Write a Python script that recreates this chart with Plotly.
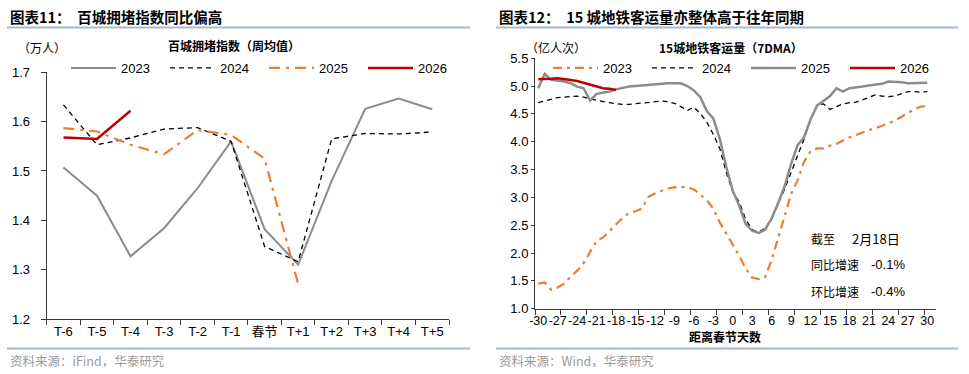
import plotly.graph_objects as go

W, H = 969, 374


def px(x):
    return x / W


def py(y):
    return 1 - y / H


# ---------------- Left chart data ----------------
left_cats = ["T-6", "T-5", "T-4", "T-3", "T-2", "T-1", "春节", "T+1", "T+2", "T+3", "T+4", "T+5"]
cong_2023 = [1.507, 1.450, 1.327, 1.384, 1.465, 1.560, 1.382, 1.310, 1.480, 1.626, 1.647, 1.625]
cong_2024 = [1.634, 1.553, 1.567, 1.585, 1.588, 1.560, 1.347, 1.316, 1.565, 1.576, 1.575, 1.579]
cong_2025 = [1.587, 1.580, 1.553, 1.534, 1.583, 1.573, 1.525, 1.271]
cong_2026 = [1.568, 1.565, 1.622]

# ---------------- Right chart data ----------------
days = list(range(-30, 31))
right_tickvals = list(range(-30, 31, 3))
right_ticktext = [str(v) for v in right_tickvals]
metro_2023 = [1.45, 1.47, 1.34, 1.38, 1.45, 1.58, 1.68, 1.82, 2.02, 2.22,
              2.28, 2.40, 2.52, 2.63, 2.72, 2.75, 2.80, 3.01, 3.07, 3.12,
              3.16, 3.18, 3.19, 3.18, 3.14, 3.05, 2.95, 2.80, 2.55, 2.35,
              2.16, 1.95, 1.72, 1.56, 1.53, 1.57, 1.88, 2.25, 2.66, 3.06,
              3.31, 3.64, 3.83, 3.88, 3.88, 3.93, 3.96, 4.02, 4.08, 4.12,
              4.17, 4.21, 4.24, 4.28, 4.33, 4.38, 4.45, 4.52, 4.58, 4.63,
              4.64]
metro_2024 = [4.70, 4.73, 4.76, 4.79, 4.80, 4.81, 4.82, 4.80, 4.77, 4.74,
              4.72, 4.70, 4.68, 4.67, 4.67, 4.68, 4.69, 4.70, 4.72, 4.73,
              4.72, 4.69, 4.63, 4.56, 4.62, 4.51, 4.35, 4.13, 3.88, 3.45,
              3.10, 2.92, 2.60, 2.42, 2.37, 2.45, 2.62, 2.88, 3.15, 3.45,
              3.75, 4.05, 4.40, 4.65, 4.68, 4.58, 4.63, 4.68, 4.70, 4.71,
              4.75, 4.80, 4.84, 4.82, 4.81, 4.82, 4.86, 4.90, 4.90, 4.89,
              4.90]
metro_2025 = [4.96, 5.22, 5.11, 5.10, 5.08, 5.05, 4.99, 4.96, 4.74, 4.86,
              4.88, 4.90, 4.94, 4.97, 4.99, 5.00, 5.01, 5.03, 5.03, 5.04,
              5.05, 5.05, 5.05, 5.00, 4.92, 4.80, 4.55, 4.42, 4.05, 3.55,
              3.12, 2.85, 2.52, 2.40, 2.36, 2.42, 2.62, 2.90, 3.20, 3.60,
              3.94, 4.08, 4.40, 4.65, 4.74, 4.82, 4.96, 4.90, 4.96, 4.97,
              4.99, 5.01, 5.02, 5.04, 5.08, 5.08, 5.07, 5.05, 5.05, 5.05,
              5.06]
days_2026 = list(range(-30, -17))
metro_2026 = [5.12, 5.12, 5.13, 5.14, 5.13, 5.11, 5.09, 5.06, 5.03, 5.00,
              4.96, 4.95, 4.93]

GRAY = "#8c8c8c"
RED = "#c00000"
ORANGE = "#ed7d31"
BLACK = "#000000"
AXIS = "#3a3a3a"
RULE = "#a9b9cc"
FONT = "Liberation Sans, Noto Sans CJK SC, sans-serif"
CJK = "Noto Sans CJK SC, Liberation Sans, sans-serif"

fig = go.Figure()

# Left traces
fig.add_trace(go.Scatter(x=left_cats, y=cong_2023, name="2023", mode="lines",
                         line=dict(color=GRAY, width=2), legend="legend", xaxis="x", yaxis="y"))
fig.add_trace(go.Scatter(x=left_cats, y=cong_2024, name="2024", mode="lines",
                         line=dict(color=BLACK, width=1.3, dash="5px,4px"), legend="legend", xaxis="x", yaxis="y"))
fig.add_trace(go.Scatter(x=left_cats[:len(cong_2025)], y=cong_2025, name="2025", mode="lines",
                         line=dict(color=ORANGE, width=2.2, dash="11px,6px,3px,6px"), legend="legend", xaxis="x", yaxis="y"))
fig.add_trace(go.Scatter(x=left_cats[:len(cong_2026)], y=cong_2026, name="2026", mode="lines",
                         line=dict(color=RED, width=2.5), legend="legend", xaxis="x", yaxis="y"))

# Right traces
fig.add_trace(go.Scatter(x=days, y=metro_2023, name="2023", mode="lines",
                         line=dict(color=ORANGE, width=2.2, dash="9px,5px,3px,5px"), legend="legend2", xaxis="x2", yaxis="y2"))
fig.add_trace(go.Scatter(x=days, y=metro_2024, name="2024", mode="lines",
                         line=dict(color=BLACK, width=1.3, dash="5px,4px"), legend="legend2", xaxis="x2", yaxis="y2"))
fig.add_trace(go.Scatter(x=days, y=metro_2025, name="2025", mode="lines",
                         line=dict(color=GRAY, width=2.5), legend="legend2", xaxis="x2", yaxis="y2"))
fig.add_trace(go.Scatter(x=days_2026, y=metro_2026, name="2026", mode="lines",
                         line=dict(color=RED, width=2.5), legend="legend2", xaxis="x2", yaxis="y2"))

axis_common = dict(showline=True, linecolor=AXIS, linewidth=1, showgrid=False, zeroline=False,
                   ticks="outside", tickcolor=AXIS, ticklen=5, tickfont=dict(family=FONT, size=13, color="#000"))

fig.update_layout(
    width=W, height=H, margin=dict(l=0, r=0, t=0, b=0),
    paper_bgcolor="white", plot_bgcolor="white",
    font=dict(family=FONT, size=13, color="#000"),
    xaxis=dict(domain=[px(46.7), px(449)], anchor="y", type="category", tickson="boundaries",
               range=[-0.5, len(left_cats) - 0.5],
               tickangle=0, automargin=False, **axis_common),
    yaxis=dict(domain=[py(319), py(72.3)], anchor="x", range=[1.2, 1.7], dtick=0.1, tickformat=".1f",
               ticklabelstandoff=8, automargin=False, **axis_common),
    xaxis2=dict(domain=[px(535), px(935.7)], anchor="y2", range=[-30.5, 31.3], tickmode="array",
                tickvals=right_tickvals, ticktext=right_ticktext, tickangle=0, automargin=False,
                showline=True, linecolor=AXIS, linewidth=1, showgrid=False, zeroline=False, ticks="",
                tickfont=dict(family=FONT, size=12.5, color="#000"),
                minor=dict(ticks="outside", tickmode="linear", tick0=-30.5, dtick=4, ticklen=5,
                           tickcolor=AXIS, showgrid=False)),
    yaxis2=dict(domain=[py(308.7), py(58.2)], anchor="x2", range=[1.0, 5.5], dtick=0.5, tickformat=".1f",
                ticklen=3, automargin=False,
                **{k: v for k, v in axis_common.items() if k != "ticklen"}),
    legend=dict(orientation="h", x=px(66), y=py(68), xanchor="left", yanchor="middle",
                font=dict(family=FONT, size=13), itemwidth=45, entrywidth=39, bgcolor="rgba(0,0,0,0)"),
    legend2=dict(orientation="h", x=px(548), y=py(68), xanchor="left", yanchor="middle",
                 font=dict(family=FONT, size=13), itemwidth=45, entrywidth=39, bgcolor="rgba(0,0,0,0)"),
)

annotations = [
    dict(x=px(8), y=py(17), text="<b>图表11：  百城拥堵指数同比偏高</b>", xanchor="left",
         font=dict(family=CJK, size=14.5, color="#000")),
    dict(x=px(497), y=py(17), text="<b>图表12：  15 城地铁客运量亦整体高于往年同期</b>", xanchor="left",
         font=dict(family=CJK, size=14.5, color="#000")),
    dict(x=px(234), y=py(45), text="<b>百城拥堵指数（周均值）</b>",
         font=dict(family=CJK, size=12, color="#000")),
    dict(x=px(731), y=py(47), text="<b>15城地铁客运量（7DMA）</b>",
         font=dict(family=CJK, size=12, color="#000")),
    dict(x=px(42), y=py(47.5), text="（万人）", font=dict(family=CJK, size=12, color="#000")),
    dict(x=px(524), y=py(47), text="（亿人次）", xanchor="left", font=dict(family=CJK, size=12, color="#000")),
    dict(x=px(725), y=py(336), text="<b>距离春节天数</b>", font=dict(family=CJK, size=12, color="#000")),
    dict(x=px(823), y=py(238), text="截至", font=dict(family=CJK, size=12, color="#000")),
    dict(x=px(876), y=py(238), text="2月18日", font=dict(family=CJK, size=13, color="#000")),
    dict(x=px(835), y=py(264), text="同比增速", font=dict(family=CJK, size=12, color="#000")),
    dict(x=px(888), y=py(264), text="-0.1%", font=dict(family=FONT, size=13, color="#000")),
    dict(x=px(835), y=py(291), text="环比增速", font=dict(family=CJK, size=12, color="#000")),
    dict(x=px(888), y=py(291), text="-0.4%", font=dict(family=FONT, size=13, color="#000")),
    dict(x=px(8), y=py(360), text="资料来源：iFind，华泰研究", xanchor="left",
         font=dict(family=CJK, size=12.5, color="#9a9a9a")),
    dict(x=px(497), y=py(360), text="资料来源：Wind，华泰研究", xanchor="left",
         font=dict(family=CJK, size=12.5, color="#9a9a9a")),
]
for a in annotations:
    a.update(xref="paper", yref="paper", showarrow=False, yanchor="middle")
    a.setdefault("xanchor", "center")
fig.update_layout(annotations=annotations)

shapes = []
for (x0, x1) in [(7, 470), (496, 958)]:
    for yy in (27.5, 348.5):
        shapes.append(dict(type="line", xref="paper", yref="paper", x0=px(x0), x1=px(x1),
                           y0=py(yy), y1=py(yy), line=dict(color=RULE, width=2)))
fig.update_layout(shapes=shapes)

fig.write_html("out.html", config={"displayModeBar": False},
               post_script="document.body.style.margin='0';document.body.style.overflow='hidden';")
